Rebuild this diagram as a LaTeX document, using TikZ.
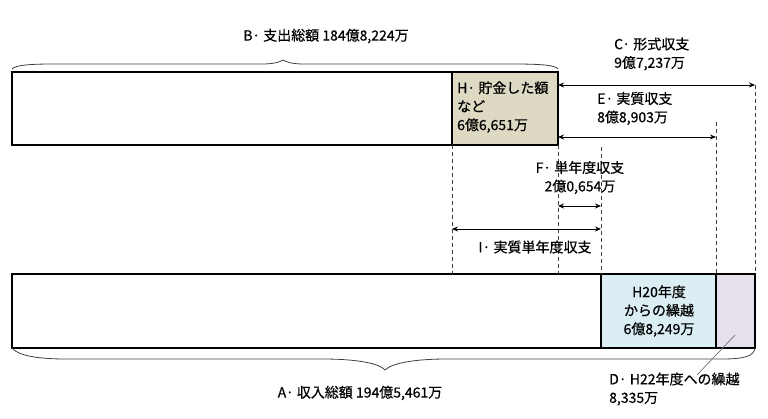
\documentclass[tikz,border=0pt]{standalone}
\usepackage{fontspec}
\setmainfont{Noto Sans CJK JP}[FakeBold=0.6]
\usetikzlibrary{arrows.meta}
\definecolor{hfill}{HTML}{DDD9C3}
\definecolor{bluefill}{HTML}{DAEEF3}
\definecolor{purplefill}{HTML}{E5E0EC}
\definecolor{guidegray}{HTML}{404040}
\begin{document}
\begin{tikzpicture}[x=1pt,y=-1pt,
  bar/.style={draw=black, line width=1.2pt, anchor=north west, inner sep=0pt, outer sep=0pt},
  lbl/.style={font=\fontsize{14}{18.5}\selectfont, inner sep=0pt, text=black},
  dim/.style={{Stealth[length=6pt,width=5pt]}-{Stealth[length=6pt,width=5pt]}, line width=0.9pt},
  guide/.style={dash pattern=on 4pt off 3pt, line width=0.8pt, draw=guidegray},
  bracepath/.style={line width=0.8pt, draw=black!75},
  leader/.style={line width=0.7pt, draw=black!55}]
\useasboundingbox (0,0) rectangle (768,419);

% bars
\node[bar, minimum width=546pt, minimum height=73pt] (top) at (12,72) {};
\node[bar, fill=hfill, minimum width=106pt, minimum height=73pt] (hbox) at (452,72) {};
\node[bar, minimum width=743pt, minimum height=74pt] (bot) at (12,274) {};
\node[bar, fill=bluefill, minimum width=115pt, minimum height=74pt] (h20) at (601,274) {};
\node[bar, fill=purplefill, minimum width=39pt, minimum height=74pt] (dbox) at (716,274) {};

% texts inside boxes
\node[lbl, align=left, anchor=west] (htext) at (457,107) {H· 貯金した額\\など\\6億6,651万};
\node[lbl, align=center] (h20text) at (659,311) {H20年度\\からの繰越\\6億8,249万};

% braces
\draw[bracepath] (12,69) .. controls (16,65) and (30,64) .. (55,64) -- (262,64)
  .. controls (274,64) and (280,62) .. (283,60)
  .. controls (286,62) and (292,64) .. (304,64) -- (512,64)
  .. controls (540,64) and (555,65) .. (558,69);
\draw[bracepath] (12,348) .. controls (18,356) and (40,359) .. (65,359) -- (322,359)
  .. controls (360,359) and (380,364) .. (385,370)
  .. controls (392,363) and (415,359) .. (447,359) -- (722,359)
  .. controls (745,359) and (754,356) .. (755,348);

% coordinates for dimension lines
\coordinate (cR) at (755,85);
\coordinate (cL) at (hbox.north east |- cR);
\coordinate (eR) at (716,137);
\coordinate (eL) at (hbox.north east |- eR);
\coordinate (eTop) at (716,122);
\coordinate (fL) at (558,206);
\coordinate (fR) at (601,206);
\coordinate (fTop) at (601,147);
\coordinate (iL) at (452,229);
\coordinate (iR) at (601,229);

% guides
\draw[guide] (hbox.south west) -- (hbox.south west |- bot.north);
\draw[guide] (hbox.south east) -- (hbox.south east |- bot.north);
\draw[guide] (fTop) -- (h20.north west);
\draw[guide] (eTop) -- (h20.north east);
\draw[guide] (cR) -- (dbox.north east);

% dimension arrows
\draw[dim] (cL) -- (cR);
\draw[dim] (eL) -- (eR);
\draw[dim] (fL) -- (fR);
\draw[dim] (iL) -- (iR);

% labels
\node[lbl] (btext) at (326,36) {B· 支出総額 184億8,224万};
\node[lbl, align=left, anchor=west] (ctext) at (614,54) {C· 形式収支\\9億7,237万};
\node[lbl, align=left, anchor=west] (etext) at (597,108.5) {E· 実質収支\\8億8,903万};
\node[lbl, align=center] (ftext) at (580,177.5) {F· 単年度収支\\2億0,654万};
\node[lbl] (itext) at (535,247) {I· 実質単年度収支};
\node[lbl] (atext) at (360,393) {A· 収入総額 194億5,461万};
\node[lbl, align=left, anchor=west] (dtext) at (609,389) {D· H22年度への繰越\\8,335万};

% leader
\coordinate (dIn) at (735,335);
\draw[leader] (dIn) -- (697,375);
\end{tikzpicture}
\end{document}
